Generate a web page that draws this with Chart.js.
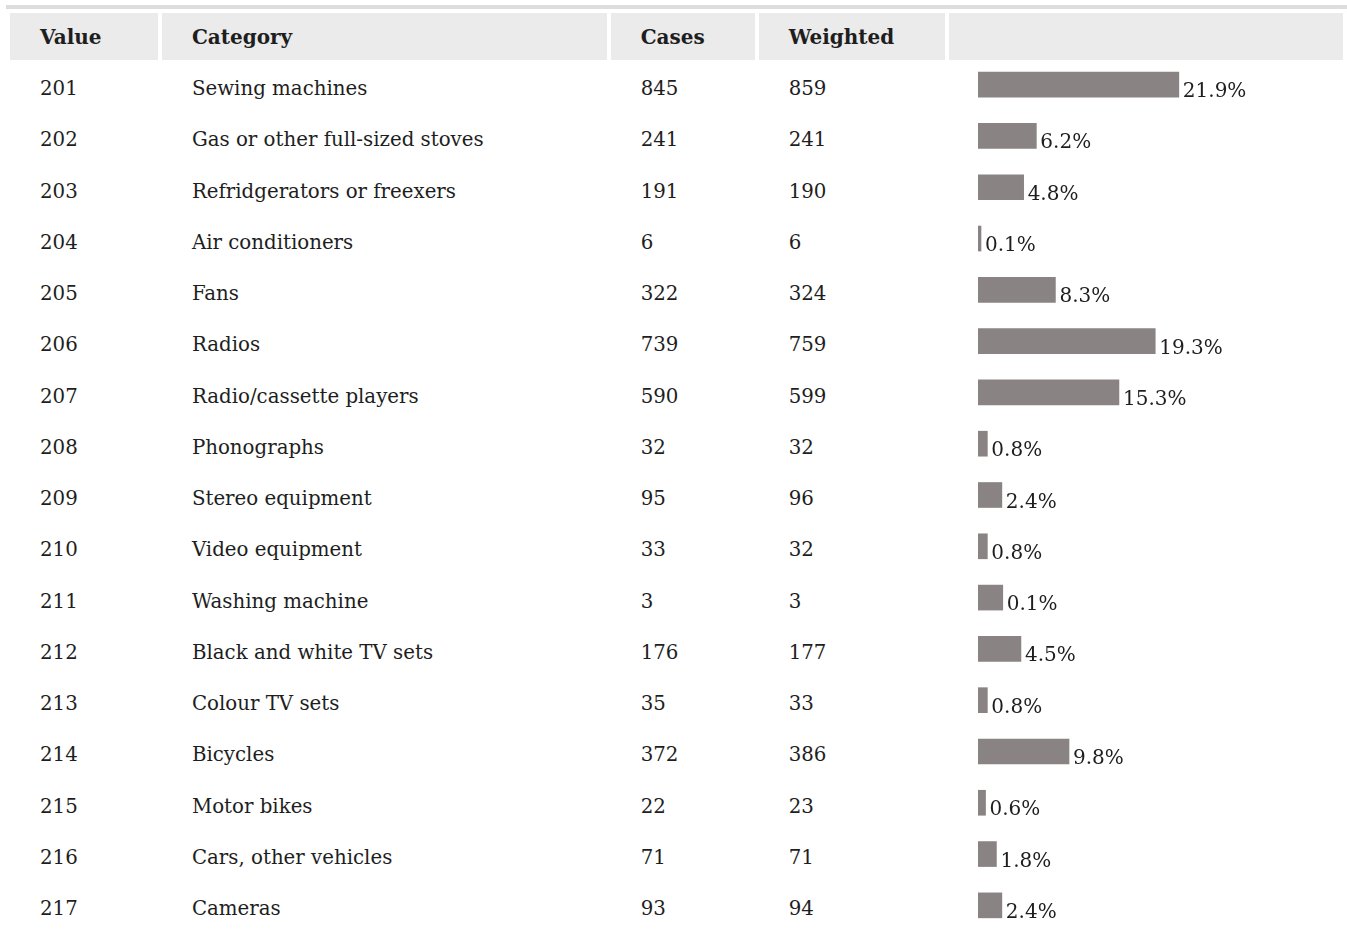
<!DOCTYPE html>
<html>
<head>
<meta charset="utf-8">
<script src="https://cdn.jsdelivr.net/npm/chart.js@4/dist/chart.umd.min.js"></script>
<style>
  html, body { margin:0; padding:0; background:#fff; overflow:hidden; }
  body { width:1347px; height:931px; position:relative; font-family:'DejaVu Serif', serif; color:#1e1e1e; }
  #topline { position:absolute; left:6px; top:5px; width:1341px; height:4px; background:#dddddd; }
  table { position:absolute; left:6px; top:9px; border-collapse:separate; border-spacing:4px; table-layout:fixed; font-size:20px; }
  th { background:#ebebeb; height:47px; padding:0 0 0 30px; text-align:left; font-weight:bold; vertical-align:middle; box-sizing:border-box; }
  td { height:47.25px; padding:2px 0 0 30px; vertical-align:middle; box-sizing:border-box; white-space:nowrap; font-size:19.8px; }
  #chartWrap { position:absolute; left:948px; top:59px; width:396px; height:872px; }
</style>
</head>
<body>
<div id="topline"></div>
<table id="tbl">
  <thead><tr id="hdr"></tr></thead>
  <tbody id="body"></tbody>
</table>
<div id="chartWrap"><canvas id="c"></canvas></div>
<script>
const headers = ["Value", "Category", "Cases", "Weighted", ""];
const codes = ["201","202","203","204","205","206","207","208","209","210","211","212","213","214","215","216","217"];
const categories = ["Sewing machines","Gas or other full-sized stoves","Refridgerators or freexers","Air conditioners","Fans","Radios","Radio/cassette players","Phonographs","Stereo equipment","Video equipment","Washing machine","Black and white TV sets","Colour TV sets","Bicycles","Motor bikes","Cars, other vehicles","Cameras"];
const cases = [845,241,191,6,322,739,590,32,95,33,3,176,35,372,22,71,93];
const weighted = [859,241,190,6,324,759,599,32,96,32,3,177,33,386,23,71,94];
const shareLabels = ["21.9%","6.2%","4.8%","0.1%","8.3%","19.3%","15.3%","0.8%","2.4%","0.8%","0.1%","4.5%","0.8%","9.8%","0.6%","1.8%","2.4%"];
const barShare = [21.9,6.2,4.8,0.1,8.3,19.3,15.3,0.8,2.4,0.8,2.5,4.5,0.8,9.8,0.6,1.8,2.4];

const colWidths = [148,445,144,186,395];
const hdr = document.getElementById('hdr');
headers.forEach((h,i)=>{ const th=document.createElement('th'); th.textContent=h; th.style.width=colWidths[i]+'px'; hdr.appendChild(th); });
const tb = document.getElementById('body');
codes.forEach((c,i)=>{
  const tr=document.createElement('tr');
  [c, categories[i], cases[i], weighted[i], ''].forEach(v=>{ const td=document.createElement('td'); td.textContent=v; tr.appendChild(td); });
  tb.appendChild(tr);
});

const labelPlugin = {
  id:'barLabels',
  afterDatasetsDraw(chart){
    const ctx=chart.ctx; const meta=chart.getDatasetMeta(0);
    ctx.save();
    ctx.font='20px "DejaVu Serif"'; ctx.fillStyle='#1e1e1e'; ctx.textAlign='left'; ctx.textBaseline='alphabetic';
    meta.data.forEach((bar,i)=>{ ctx.fillText(shareLabels[i], bar.x+4, bar.y+12.5); });
    ctx.restore();
  }
};

new Chart(document.getElementById('c'), {
  type:'bar',
  data:{ labels:categories, datasets:[{ data:barShare, base:-0.23, backgroundColor:'#898483', borderWidth:0, barThickness:25 }] },
  options:{
    indexAxis:'y', responsive:true, maintainAspectRatio:false, animation:false,
    layout:{ padding:{ left:30, right:0, top:0, bottom:0 } },
    plugins:{ legend:{display:false}, tooltip:{enabled:false} },
    scales:{
      x:{ display:false, min:-0.23, max:40.1, grid:{display:false} },
      y:{ display:false, grid:{display:false} }
    }
  },
  plugins:[labelPlugin]
});
</script>
</body>
</html>
